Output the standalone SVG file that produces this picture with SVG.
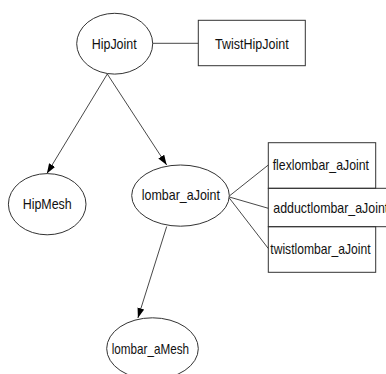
<svg xmlns="http://www.w3.org/2000/svg" width="386" height="374" viewBox="0 0 386 374">
<style>
.n{fill:none;stroke:#333;stroke-width:1}
.t{font-family:"Liberation Sans",Arial,sans-serif;font-size:14.5px;fill:#111}
.e{fill:none;stroke:#333;stroke-width:0.9}
</style>
<defs>
<marker id="ah" markerUnits="userSpaceOnUse" markerWidth="12" markerHeight="10" refX="10" refY="3.5" orient="auto">
<path d="M0,0 L10,3.5 L0,7 Z" fill="#000"/>
</marker>
</defs>
<rect width="386" height="374" fill="#fff"/>
<g id="connectors">
<line class="e" x1="152.7" y1="43.3" x2="198.3" y2="43.3"/>
<line class="e" x1="107.3" y1="74" x2="46.9" y2="173.6" marker-end="url(#ah)"/>
<line class="e" x1="107.3" y1="74" x2="166.7" y2="165" marker-end="url(#ah)"/>
<line class="e" x1="166.7" y1="226.5" x2="137.9" y2="318" marker-end="url(#ah)"/>
<line class="e" x1="229.3" y1="196" x2="268.3" y2="165"/>
<line class="e" x1="229.3" y1="197" x2="268.3" y2="208.3"/>
<line class="e" x1="229.3" y1="198" x2="268.3" y2="248.5"/>
</g>
<g id="HipJoint">
<ellipse class="n" cx="114.7" cy="43.7" rx="38" ry="30.4"/>
<text class="t" x="91.7" y="48.5" textLength="45" lengthAdjust="spacingAndGlyphs">HipJoint</text>
</g>
<g id="TwistHipJoint">
<rect class="n" x="198.3" y="20.3" width="107" height="45.4"/>
<text class="t" x="215" y="48.5" textLength="73.7" lengthAdjust="spacingAndGlyphs">TwistHipJoint</text>
</g>
<g id="HipMesh">
<ellipse class="n" cx="47.2" cy="204.2" rx="38.8" ry="30.6"/>
<text class="t" x="22.7" y="209" textLength="49" lengthAdjust="spacingAndGlyphs">HipMesh</text>
</g>
<g id="lombar_aJoint">
<ellipse class="n" cx="180.5" cy="195.6" rx="48.8" ry="30.6"/>
<text class="t" x="141.7" y="200.3" textLength="78.3" lengthAdjust="spacingAndGlyphs">lombar_aJoint</text>
</g>
<g id="flexlombar_aJoint">
<rect class="n" x="268.3" y="142.7" width="107.4" height="45.6"/>
<text class="t" x="272.7" y="169.8" textLength="96.3" lengthAdjust="spacingAndGlyphs">flexlombar_aJoint</text>
</g>
<g id="adductlombar_aJoint">
<rect class="n" x="268.3" y="188.3" width="130" height="38.4"/>
<text class="t" x="273.3" y="212.7" textLength="115" lengthAdjust="spacingAndGlyphs">adductlombar_aJoint</text>
</g>
<g id="twistlombar_aJoint">
<rect class="n" x="268.3" y="226.7" width="107.4" height="45.6"/>
<text class="t" x="270.3" y="253.8" textLength="100.3" lengthAdjust="spacingAndGlyphs">twistlombar_aJoint</text>
</g>
<g id="lombar_aMesh">
<ellipse class="n" cx="152.5" cy="348.6" rx="45.8" ry="30.8"/>
<text class="t" x="111.7" y="353.6" textLength="77.3" lengthAdjust="spacingAndGlyphs">lombar_aMesh</text>
</g>
</svg>
